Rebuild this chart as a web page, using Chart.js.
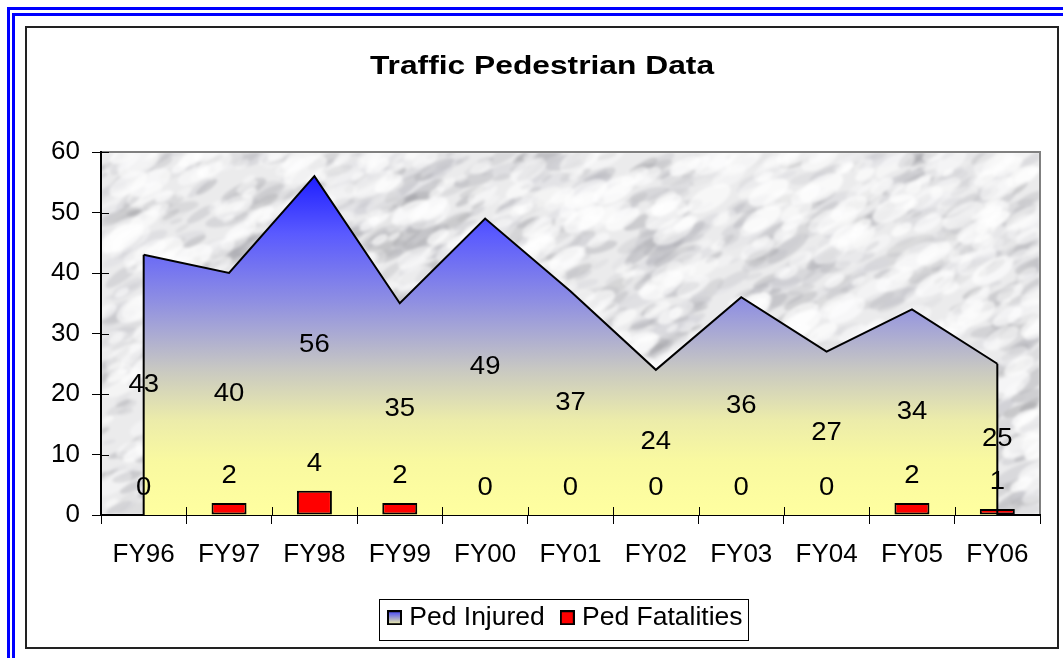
<!DOCTYPE html>
<html>
<head>
<meta charset="utf-8">
<script src="https://cdn.jsdelivr.net/npm/chart.js@4.4.0/dist/chart.umd.min.js"></script>
<style>
html, body { margin: 0; padding: 0; background: #fff; }
#wrap { position: relative; width: 1063px; height: 658px; overflow: hidden; }
#chart { position: absolute; left: 0; top: 0; }
.blue1 { position: absolute; left: 7px; top: 7px; width: 3000px; height: 3000px; border-left: 3px solid #0000ff; border-top: 3px solid #0000ff; }
.blue2 { position: absolute; left: 12px; top: 13px; width: 3000px; height: 3000px; border-left: 3px solid #0000ff; border-top: 3px solid #0000ff; }
.frame { position: absolute; left: 25px; top: 26px; width: 1030px; height: 619px; border: 2px solid #222; pointer-events: none; }
</style>
</head>
<body>
<div id="wrap">
  <div class="blue1"></div>
  <div class="blue2"></div>
  <canvas id="chart" width="1063" height="658"></canvas>
  <div class="frame"></div>
</div>
<script>
'use strict';

const years = ['FY96', 'FY97', 'FY98', 'FY99', 'FY00', 'FY01', 'FY02', 'FY03', 'FY04', 'FY05', 'FY06'];
const pedInjured = [43, 40, 56, 35, 49, 37, 24, 36, 27, 34, 25];
const pedFatalities = [0, 2, 4, 2, 0, 0, 0, 0, 0, 2, 1];
const yMin = 0;
const yMax = 60;
const yStep = 10;
const chartTitle = 'Traffic Pedestrian Data';

const FONT = '"Liberation Sans", Arial, sans-serif';

// marble-ish texture for the plot area (style only, not data)
let marble = null;
function hash(n) {
    let s = Math.sin(n * 12.9898) * 43758.5453;
    return s - Math.floor(s);
}
function makeMarble(w, h) {
    let a = document.createElement('canvas');
    a.width = w; a.height = h;
    let c = a.getContext('2d');
    c.fillStyle = '#ebebec';
    c.fillRect(0, 0, w, h);
    for (let i = 0; i < 1600; i++) {
        let x = hash(i + 1) * w;
        let y = hash(i + 1000.5) * h;
        let r = 3 + hash(i + 2000.5) * 12;
        let g = 140 + Math.floor(hash(i + 3000.5) * 80);
        c.fillStyle = `rgba(${g},${g},${g + 6},${0.15 + hash(i + 4000.5) * 0.25})`;
        c.beginPath();
        c.ellipse(x, y, r * 1.7, r * 0.5, -0.7 + hash(i + 5000.5) * 0.5, 0, Math.PI * 2);
        c.fill();
    }
    for (let i = 0; i < 900; i++) {
        let x = hash(i + 7000.5) * w;
        let y = hash(i + 8000.5) * h;
        let r = 4 + hash(i + 9000.5) * 12;
        c.fillStyle = `rgba(255,255,255,${0.3 + hash(i + 9500.5) * 0.4})`;
        c.beginPath();
        c.ellipse(x, y, r * 1.5, r * 0.7, -0.5, 0, Math.PI * 2);
        c.fill();
    }
    let b = document.createElement('canvas');
    b.width = w; b.height = h;
    let bc = b.getContext('2d');
    bc.filter = 'blur(1.6px)';
    bc.drawImage(a, 0, 0);
    return b;
}

function areaGradient(ctx, chart) {
    if (!chart.chartArea) return '#8080ff';
    const y = chart.scales.y;
    const g = ctx.createLinearGradient(0, y.getPixelForValue(Math.max(...pedInjured)), 0, y.getPixelForValue(0));
    g.addColorStop(0, '#1e1eff');
    g.addColorStop(0.17, '#5a5aff');
    g.addColorStop(0.37, '#8f8fe2');
    g.addColorStop(0.57, '#c8c8c2');
    g.addColorStop(0.72, '#ececaa');
    g.addColorStop(0.84, '#f9f9a0');
    g.addColorStop(1, '#ffffa0');
    return g;
}

function legendSwatch(fill) {
    let cv = document.createElement('canvas');
    cv.width = 15; cv.height = 15;
    let c = cv.getContext('2d');
    if (fill === 'gradient') {
        let g = c.createLinearGradient(0, 0, 0, 15);
        g.addColorStop(0, '#3a3aff');
        g.addColorStop(1, '#ffffa0');
        c.fillStyle = g;
    } else {
        c.fillStyle = fill;
    }
    c.fillRect(0, 0, 15, 15);
    c.strokeStyle = '#000';
    c.lineWidth = 2;
    c.strokeRect(1, 1, 13, 13);
    return cv;
}

const plotBackground = {
    id: 'plotBackground',
    beforeDraw(chart) {
        const { ctx, chartArea: a } = chart;
        const w = Math.round(a.right - a.left), h = Math.round(a.bottom - a.top);
        if (!marble || marble.width !== w || marble.height !== h) marble = makeMarble(w, h);
        ctx.save();
        ctx.drawImage(marble, a.left, a.top);
        ctx.strokeStyle = '#808080';
        ctx.lineWidth = 2;
        ctx.beginPath();
        ctx.moveTo(a.left, a.top);
        ctx.lineTo(a.right, a.top);
        ctx.lineTo(a.right, a.bottom);
        ctx.stroke();
        ctx.restore();

        // title, a little wider than the font as in the picture
        ctx.save();
        ctx.fillStyle = '#000';
        ctx.font = 'bold 25px ' + FONT;
        ctx.textAlign = 'center';
        ctx.textBaseline = 'middle';
        ctx.translate(542, 67);
        ctx.scale(1.27, 1);
        ctx.fillText(chartTitle, 0, 0);
        ctx.restore();
    }
};

const valueLabels = {
    id: 'valueLabels',
    afterDatasetsDraw(chart) {
        const { ctx } = chart;
        const x = chart.scales.x, y = chart.scales.y;
        const base = y.getPixelForValue(0);
        const pts = chart.getDatasetMeta(0).data;
        const bars = chart.getDatasetMeta(1).data;
        ctx.save();
        ctx.strokeStyle = '#000';
        ctx.lineWidth = 2;
        ctx.beginPath();
        // closing edges of the area
        ctx.moveTo(pts[0].x, pts[0].y);
        ctx.lineTo(pts[0].x, base);
        ctx.moveTo(pts[pts.length - 1].x, pts[pts.length - 1].y);
        ctx.lineTo(pts[pts.length - 1].x, base);
        ctx.stroke();

        // tick marks crossing into the plot
        ctx.lineWidth = 1;
        ctx.beginPath();
        y.ticks.forEach((t, i) => {
            if (t.value === 0) return;
            const py = Math.round(y.getPixelForTick(i)) + 0.5;
            ctx.moveTo(y.right, py);
            ctx.lineTo(y.right + 8, py);
        });
        const step = (x.right - x.left) / years.length;
        for (let i = 1; i < years.length; i++) {
            const px = Math.round(x.left + i * step) + 0.5;
            ctx.moveTo(px, base);
            ctx.lineTo(px, base - 8);
        }
        ctx.stroke();

        ctx.fillStyle = '#000';
        ctx.font = '25px ' + FONT;
        ctx.textAlign = 'center';
        ctx.textBaseline = 'middle';
        const label = (txt, px, py) => {
            ctx.save();
            ctx.translate(px, py);
            ctx.scale(1.1, 1);
            ctx.fillText(txt, 0, 0);
            ctx.restore();
        };
        pts.forEach((p, i) => label(String(pedInjured[i]), p.x, (p.y + base) / 2));
        bars.forEach((b, i) => label(String(pedFatalities[i]), b.x, b.y - 27));
        ctx.restore();
    }
};

const legendPlace = {
    id: 'legendPlace',
    afterUpdate(chart) {
        // the legend sits right of centre in the picture
        const lg = chart.legend;
        if (!lg || !lg.legendHitBoxes.length) return;
        const d = 393 - lg.legendHitBoxes[0].left;
        lg.left += d;
        lg.right += d;
        lg.legendHitBoxes.forEach(b => { b.left += d; });
    },
    afterDraw(chart) {
        const boxes = chart.legend.legendHitBoxes;
        if (!boxes || !boxes.length) return;
        const l = boxes[0].left;
        const last = boxes[boxes.length - 1];
        const r = last.left + last.width;
        const t = boxes[0].top;
        const ctx = chart.ctx;
        ctx.save();
        ctx.strokeStyle = '#000';
        ctx.lineWidth = 1;
        const fl = Math.round(l - 14) + 0.5, ft = Math.round(t - 6) + 0.5;
        ctx.strokeRect(fl, ft, Math.round(r + 5) - Math.round(l - 14), 41);
        ctx.restore();
    }
};

const swatches = [legendSwatch('gradient'), legendSwatch('#ff0000')];

new Chart(document.getElementById('chart'), {
    type: 'bar',
    data: {
        labels: years,
        datasets: [
            {
                type: 'line',
                label: 'Ped Injured',
                data: pedInjured,
                order: 1,
                fill: 'origin',
                backgroundColor: (c) => areaGradient(c.chart.ctx, c.chart),
                borderColor: '#000',
                borderWidth: 2,
                tension: 0,
                pointRadius: 0,
                pointHoverRadius: 0
            },
            {
                type: 'bar',
                label: 'Ped Fatalities',
                data: pedFatalities,
                order: 0,
                backgroundColor: '#ff0000',
                borderColor: '#000',
                borderWidth: 2,
                borderSkipped: false,
                categoryPercentage: 1,
                barPercentage: 0.41
            }
        ]
    },
    options: {
        responsive: false,
        animation: false,
        events: [],
        layout: { padding: { left: 26, right: 23, top: 152, bottom: 17 } },
        plugins: {
            title: { display: false },
            legend: {
                display: true,
                position: 'bottom',
                labels: {
                    color: '#000',
                    font: { family: FONT, size: 26.5 },
                    usePointStyle: true,
                    pointStyleWidth: 3,
                    padding: 21,
                    sort: (a, b) => a.datasetIndex - b.datasetIndex,
                    generateLabels: (chart) => chart.data.datasets.map((ds, i) => ({
                        text: ds.label,
                        pointStyle: swatches[i],
                        datasetIndex: i,
                        fillStyle: 'transparent',
                        strokeStyle: 'transparent',
                        lineWidth: 0,
                        hidden: false
                    }))
                }
            },
            tooltip: { enabled: false }
        },
        scales: {
            x: {
                offset: true,
                grid: { display: true, offset: true, drawOnChartArea: false, drawTicks: true, tickLength: 9, color: '#000', lineWidth: 1 },
                border: { display: true, color: '#000', width: 2 },
                ticks: { color: '#000', font: { family: FONT, size: 26 }, padding: 15, maxRotation: 0 },
                afterFit: (s) => { s.height = 68.5; }
            },
            y: {
                min: yMin,
                max: yMax,
                grid: { display: true, drawOnChartArea: false, drawTicks: true, tickLength: 9, color: '#000', lineWidth: 1 },
                border: { display: true, color: '#000', width: 2 },
                ticks: { stepSize: yStep, color: '#000', font: { family: FONT, size: 26 }, padding: 12 },
                afterFit: (s) => { s.width = 75; }
            }
        }
    },
    plugins: [plotBackground, valueLabels, legendPlace]
});
</script>
</body>
</html>
